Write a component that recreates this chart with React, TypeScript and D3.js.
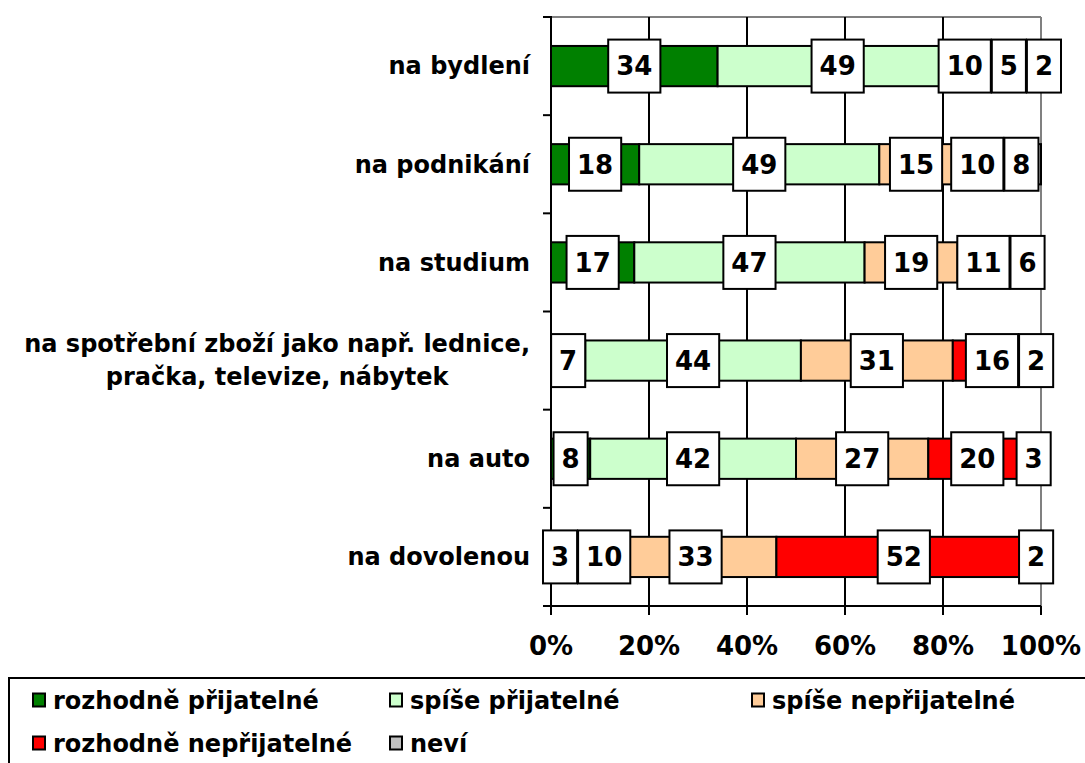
import React, { useRef, useEffect } from "react";
import * as d3 from "d3";

const categories = [
  "na bydlení",
  "na podnikání",
  "na studium",
  "na spotřební zboží jako např. lednice, pračka, televize, nábytek",
  "na auto",
  "na dovolenou",
];
// how the long category labels are broken into lines
const categoryLines = [
  ["na bydlení"],
  ["na podnikání"],
  ["na studium"],
  ["na spotřební zboží jako např. lednice,", "pračka, televize, nábytek"],
  ["na auto"],
  ["na dovolenou"],
];

const seriesNames = [
  "rozhodně přijatelné",
  "spíše přijatelné",
  "spíše nepřijatelné",
  "rozhodně nepřijatelné",
  "neví",
];
const seriesColors = ["#008000", "#CCFFCC", "#FFCC99", "#FF0000", "#C0C0C0"];

const rozhodnePrijatelne = [34, 18, 17, 7, 8, 3];
const spisePrijatelne = [49, 49, 47, 44, 42, 10];
const spiseNeprijatelne = [10, 15, 19, 31, 27, 33];
const rozhodneNeprijatelne = [5, 10, 11, 16, 20, 52];
const nevi = [2, 8, 6, 2, 3, 2];

const xTicks = [0, 20, 40, 60, 80, 100];

const FONT = "Verdana, 'DejaVu Sans', sans-serif";

const App = () => {
  const svgRef = useRef<SVGSVGElement>(null);

  useEffect(() => {
    const width = 1085;
    const height = 763;
    const plot = { left: 551, right: 1041, top: 17, bottom: 606 };

    const svg = d3.select(svgRef.current).attr("width", width).attr("height", height);
    svg.selectAll("*").remove();

    const values = [rozhodnePrijatelne, spisePrijatelne, spiseNeprijatelne, rozhodneNeprijatelne, nevi];
    const rows = categories.map((c, i) => {
      const r: any = { category: c };
      seriesNames.forEach((s, j) => (r[s] = values[j][i]));
      return r;
    });
    const stacked = d3.stack().keys(seriesNames)(rows);

    const x = d3.scaleLinear().domain([0, 100]).range([plot.left, plot.right]);
    const y = d3
      .scaleBand()
      .domain(categories)
      .range([plot.top, plot.bottom])
      .paddingInner(0.59)
      .paddingOuter(0.295);
    const step = y.step();

    // plot frame (gray top/right), gridlines
    svg
      .append("line")
      .attr("x1", plot.left).attr("x2", plot.right)
      .attr("y1", plot.top).attr("y2", plot.top)
      .attr("stroke", "#808080").attr("stroke-width", 2);
    svg
      .append("line")
      .attr("x1", plot.right).attr("x2", plot.right)
      .attr("y1", plot.top).attr("y2", plot.bottom)
      .attr("stroke", "#808080").attr("stroke-width", 2);
    svg
      .selectAll(".grid")
      .data(xTicks.slice(1, -1))
      .enter()
      .append("line")
      .attr("x1", (d) => x(d)).attr("x2", (d) => x(d))
      .attr("y1", plot.top).attr("y2", plot.bottom)
      .attr("stroke", "#000").attr("stroke-width", 2);

    // y axis
    svg
      .append("line")
      .attr("x1", plot.left).attr("x2", plot.left)
      .attr("y1", plot.top - 1).attr("y2", plot.bottom)
      .attr("stroke", "#000").attr("stroke-width", 2);
    svg
      .selectAll(".ytick")
      .data(d3.range(categories.length + 1))
      .enter()
      .append("line")
      .attr("x1", plot.left - 8).attr("x2", plot.left)
      .attr("y1", (i) => plot.top + i * step).attr("y2", (i) => plot.top + i * step)
      .attr("stroke", "#000").attr("stroke-width", 2);

    // x axis
    svg
      .append("line")
      .attr("x1", plot.left - 8).attr("x2", plot.right)
      .attr("y1", plot.bottom).attr("y2", plot.bottom)
      .attr("stroke", "#000").attr("stroke-width", 2);
    svg
      .selectAll(".xtick")
      .data(xTicks)
      .enter()
      .append("line")
      .attr("x1", (d) => x(d)).attr("x2", (d) => x(d))
      .attr("y1", plot.bottom).attr("y2", plot.bottom + 9)
      .attr("stroke", "#000").attr("stroke-width", 2);
    svg
      .selectAll(".xlabel")
      .data(xTicks)
      .enter()
      .append("text")
      .attr("x", (d) => x(d))
      .attr("y", 655)
      .attr("text-anchor", "middle")
      .attr("font-family", FONT)
      .attr("font-weight", "bold")
      .attr("font-size", 26)
      .text((d) => d + "%");

    // category labels
    categories.forEach((c, i) => {
      const cy = (y(c) as number) + y.bandwidth() / 2;
      const lines = categoryLines[i];
      const g = svg.append("g");
      const first = g
        .append("text")
        .attr("x", 530)
        .attr("y", cy - (lines.length - 1) * 16.5)
        .attr("dy", "0.35em")
        .attr("text-anchor", "end")
        .attr("font-family", FONT)
        .attr("font-weight", "bold")
        .attr("font-size", 24)
        .text(lines[0]);
      if (lines.length > 1) {
        const w = (first.node() as SVGTextElement).getComputedTextLength();
        g.append("text")
          .attr("x", 530 - w / 2)
          .attr("y", cy + 16.5)
          .attr("dy", "0.35em")
          .attr("text-anchor", "middle")
          .attr("font-family", FONT)
          .attr("font-weight", "bold")
          .attr("font-size", 24)
          .text(lines[1]);
      }
    });

    // bars
    stacked.forEach((layer, j) => {
      svg
        .selectAll(".bar" + j)
        .data(layer)
        .enter()
        .append("rect")
        .attr("x", (d) => x(d[0]))
        .attr("y", (d) => y(d.data.category as string) as number)
        .attr("width", (d) => x(d[1]) - x(d[0]))
        .attr("height", y.bandwidth())
        .attr("fill", seriesColors[j])
        .attr("stroke", "#000")
        .attr("stroke-width", 2);
    });

    // data labels in white boxes; overlapping ones are spread apart as a group
    const minLeft = plot.left - 8;
    const maxRight = plot.right + 20;
    const gap = 1;
    categories.forEach((c, i) => {
      const cy = (y(c) as number) + y.bandwidth() / 2;
      const labels = stacked
        .map((layer) => layer[i])
        .filter((d) => d[1] - d[0] > 0)
        .map((d) => {
          const g = svg.append("g");
          const rect = g.append("rect");
          const t = g
            .append("text")
            .attr("y", cy)
            .attr("dy", "0.36em")
            .attr("text-anchor", "middle")
            .attr("font-family", FONT)
            .attr("font-weight", "bold")
            .attr("font-size", 26)
            .text(d[1] - d[0]);
          const w = (t.node() as SVGTextElement).getComputedTextLength() + 16;
          return { c: x((d[0] + d[1]) / 2), w, rect, t, pos: 0 };
        });

      type Cl = { items: typeof labels };
      const place = (cl: Cl) => {
        const offs: number[] = [0];
        for (let k = 1; k < cl.items.length; k++)
          offs.push(offs[k - 1] + cl.items[k - 1].w / 2 + cl.items[k].w / 2 + gap);
        let start = d3.mean(cl.items, (l, k) => l.c - offs[k]) as number;
        const last = cl.items.length - 1;
        start = Math.min(start, maxRight - cl.items[last].w / 2 - offs[last]);
        start = Math.max(start, minLeft + cl.items[0].w / 2);
        cl.items.forEach((l, k) => (l.pos = start + offs[k]));
      };
      const clusters: Cl[] = [];
      labels.forEach((l) => {
        const cl = { items: [l] };
        place(cl);
        clusters.push(cl);
        while (clusters.length > 1) {
          const a = clusters[clusters.length - 2];
          const b = clusters[clusters.length - 1];
          const la = a.items[a.items.length - 1];
          const lb = b.items[0];
          if (la.pos + la.w / 2 + gap > lb.pos - lb.w / 2) {
            clusters.pop();
            a.items = a.items.concat(b.items);
            place(a);
          } else break;
        }
      });

      labels.forEach((l) => {
        l.rect
          .attr("x", l.pos - l.w / 2)
          .attr("y", cy - 26.5)
          .attr("width", l.w)
          .attr("height", 53)
          .attr("fill", "#fff")
          .attr("stroke", "#000")
          .attr("stroke-width", 2);
        l.t.attr("x", l.pos);
      });
    });

    // legend
    svg
      .append("rect")
      .attr("x", 9).attr("y", 678)
      .attr("width", 1090).attr("height", 120)
      .attr("fill", "#fff")
      .attr("stroke", "#000").attr("stroke-width", 2);
    const legendX = [33, 390, 752];
    const legendY = [700.5, 743.5];
    const items = svg
      .selectAll(".legend")
      .data(seriesNames)
      .enter()
      .append("g")
      .attr("transform", (d, k) => `translate(${legendX[k % 3]},${legendY[Math.floor(k / 3)]})`);
    items
      .append("rect")
      .attr("x", 0).attr("y", -7)
      .attr("width", 12).attr("height", 13)
      .attr("fill", (d, k) => seriesColors[k])
      .attr("stroke", "#000").attr("stroke-width", 2);
    items
      .append("text")
      .attr("x", 20)
      .attr("dy", "0.35em")
      .attr("font-family", FONT)
      .attr("font-weight", "bold")
      .attr("font-size", 24)
      .text((d) => d);

    return () => {
      svg.selectAll("*").remove();
    };
  }, []);

  return <svg ref={svgRef} style={{ position: "absolute", left: 0, top: 0 }}></svg>;
};

export default App;
